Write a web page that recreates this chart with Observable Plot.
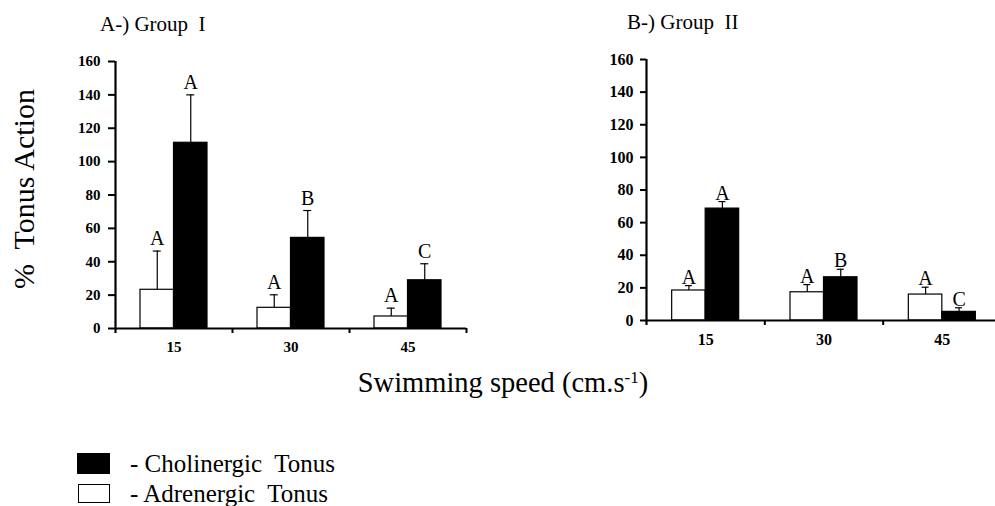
<!DOCTYPE html>
<html><head><meta charset="utf-8">
<script src="https://cdn.jsdelivr.net/npm/d3@7"></script>
<script src="https://cdn.jsdelivr.net/npm/@observablehq/plot@0.6"></script>
<style>
html,body{margin:0;padding:0;background:#fff;overflow:hidden;}
#root{position:relative;width:995px;height:506px;overflow:hidden;font-family:"Liberation Serif","Times New Roman",serif;color:#000;}
.abs{position:absolute;white-space:nowrap;line-height:1;}
.box{position:absolute;box-sizing:border-box;border:1.5px solid #000;}
svg{position:absolute;top:0;}
</style></head><body><div id="root"></div>
<script>
// ---- data ----
const speeds = ["15", "30", "45"];
const yTicks = [0, 20, 40, 60, 80, 100, 120, 140, 160];

const g1Adrenergic = [23.2, 12.4, 7.2];
const g1AdrenergicSE = [23.2, 7.8, 5.0];
const g1Cholinergic = [111.3, 54.3, 28.9];
const g1CholinergicSE = [28.7, 16.4, 9.9];
const g1AdrLetters = ["A", "A", "A"];
const g1CholLetters = ["A", "B", "C"];

const g2Adrenergic = [18.4, 17.3, 15.9];
const g2AdrenergicSE = [3.0, 4.7, 4.5];
const g2Cholinergic = [68.6, 26.5, 5.3];
const g2CholinergicSE = [4.3, 4.9, 2.5];
const g2AdrLetters = ["A", "A", "A"];
const g2CholLetters = ["A", "B", "C"];

const titleA = "A-) Group  I";
const titleB = "B-) Group  II";
const yTitle = "%  Tonus Action";
const legendChol = "- Cholinergic  Tonus";
const legendAdr = "- Adrenergic  Tonus";

const FONT = "Liberation Serif, Times New Roman, serif";

function panel(o) {
  const bw = (o.width - o.mL - o.mR) / speeds.length;
  const barW = 33.5;
  const adr = speeds.map((s, i) => ({speed: s, value: o.adr[i], upper: o.adr[i] + o.adrSE[i], letter: o.adrL[i]}));
  const chol = speeds.map((s, i) => ({speed: s, value: o.chol[i], upper: o.chol[i] + o.cholSE[i], letter: o.cholL[i]}));
  const capHalf = o.capW / 2;
  const errMarks = (rows, off) => [
    Plot.ruleX(rows, {x: "speed", y1: "upper", y2: "value", dx: off, stroke: "black", strokeWidth: 1.2}),
    Plot.tickY(rows, {x: "speed", y: "upper", dx: off, insetLeft: bw / 2 - capHalf, insetRight: bw / 2 - capHalf, stroke: "black", strokeWidth: 1.2}),
    Plot.text(rows, {x: "speed", y: "upper", dx: off, dy: o.letterDy, text: "letter", lineAnchor: "bottom", textAnchor: "middle", fontSize: 20, fontFamily: FONT, fill: "black"})
  ];
  return Plot.plot({
    width: o.width, height: o.height,
    marginLeft: o.mL, marginRight: o.mR, marginTop: o.mT, marginBottom: o.mB,
    style: {fontFamily: FONT, color: "black", background: "transparent", overflow: "visible"},
    x: {domain: speeds, padding: 0, round: false, axis: null},
    y: {domain: [0, 160], axis: null},
    marks: [
      Plot.barY(adr, {x: "speed", y: "value", fill: "white", stroke: "black", strokeWidth: 1.2, insetLeft: bw / 2 - barW, insetRight: bw / 2}),
      Plot.barY(chol, {x: "speed", y: "value", fill: "black", stroke: "black", strokeWidth: 1.2, insetLeft: bw / 2, insetRight: bw / 2 - barW}),
      ...errMarks(adr, -barW / 2),
      ...errMarks(chol, barW / 2),
      Plot.ruleY([0], {stroke: "black", strokeWidth: 2}),
      Plot.ruleX([speeds[0]], {x: d => d, dx: -bw / 2, y1: 160, y2: 0, insetBottom: -5, stroke: "black", strokeWidth: 2.2}),
      Plot.ruleX(speeds, {x: d => d, dx: bw / 2, y1: 0, y2: 0, insetBottom: -5, stroke: "black", strokeWidth: 2}),
      Plot.axisY({ticks: yTicks, tickSize: o.tickSize, tickPadding: o.tickPadding, strokeWidth: 2, fontSize: o.yFont, fontWeight: "bold", fontFamily: FONT, fill: "black", label: null}),
      Plot.axisX({tickSize: 0, tickPadding: 13, fontSize: o.xFont, fontWeight: "bold", fontFamily: FONT, fill: "black", label: null})
    ]
  });
}

const root = document.getElementById("root");

const pA = panel({adr: g1Adrenergic, adrSE: g1AdrenergicSE, chol: g1Cholinergic, cholSE: g1CholinergicSE,
  adrL: g1AdrLetters, cholL: g1CholLetters, width: 480, height: 370, mL: 115, mR: 14, mT: 61, mB: 42,
  tickSize: 7, tickPadding: 8, yFont: 15, xFont: 15, letterDy: -6, capW: 8});
pA.style.left = "0px";
root.appendChild(pA);

const pB = panel({adr: g2Adrenergic, adrSE: g2AdrenergicSE, chol: g2Cholinergic, cholSE: g2CholinergicSE,
  adrL: g2AdrLetters, cholL: g2CholLetters, width: 411, height: 370, mL: 56, mR: 0, mT: 59, mB: 50,
  tickSize: 6, tickPadding: 7, yFont: 16, xFont: 16, letterDy: -2, capW: 7});
pB.style.left = "590px";
root.appendChild(pB);

function addText(txt, left, top, size, extra) {
  const d = document.createElement("div");
  d.className = "abs";
  d.style.left = left + "px";
  d.style.top = top + "px";
  d.style.fontSize = size + "px";
  d.style.whiteSpace = "pre";
  if (extra) Object.assign(d.style, extra);
  d.innerHTML = txt;
  root.appendChild(d);
  return d;
}
addText(titleA, 100, 13.5, 21);
addText(titleB, 627, 11.5, 21);
addText(yTitle, 24, 189, 30, {transform: "translate(-50%,-50%) rotate(-90deg)"});
addText('Swimming speed (cm.s<sup style="font-size:0.6em;vertical-align:0;position:relative;top:-0.55em;">-1</sup>)', 503, 383, 28.5, {transform: "translate(-50%,-50%)"});

function addBox(left, top, w, h, fill) {
  const b = document.createElement("div");
  b.className = "box";
  Object.assign(b.style, {left: left + "px", top: top + "px", width: w + "px", height: h + "px", background: fill});
  root.appendChild(b);
}
addBox(77, 453, 33, 21, "black");
addBox(78, 484, 32, 19, "white");
addText(legendChol, 130, 451, 25);
addText(legendAdr, 130, 481, 25);
</script></body></html>
